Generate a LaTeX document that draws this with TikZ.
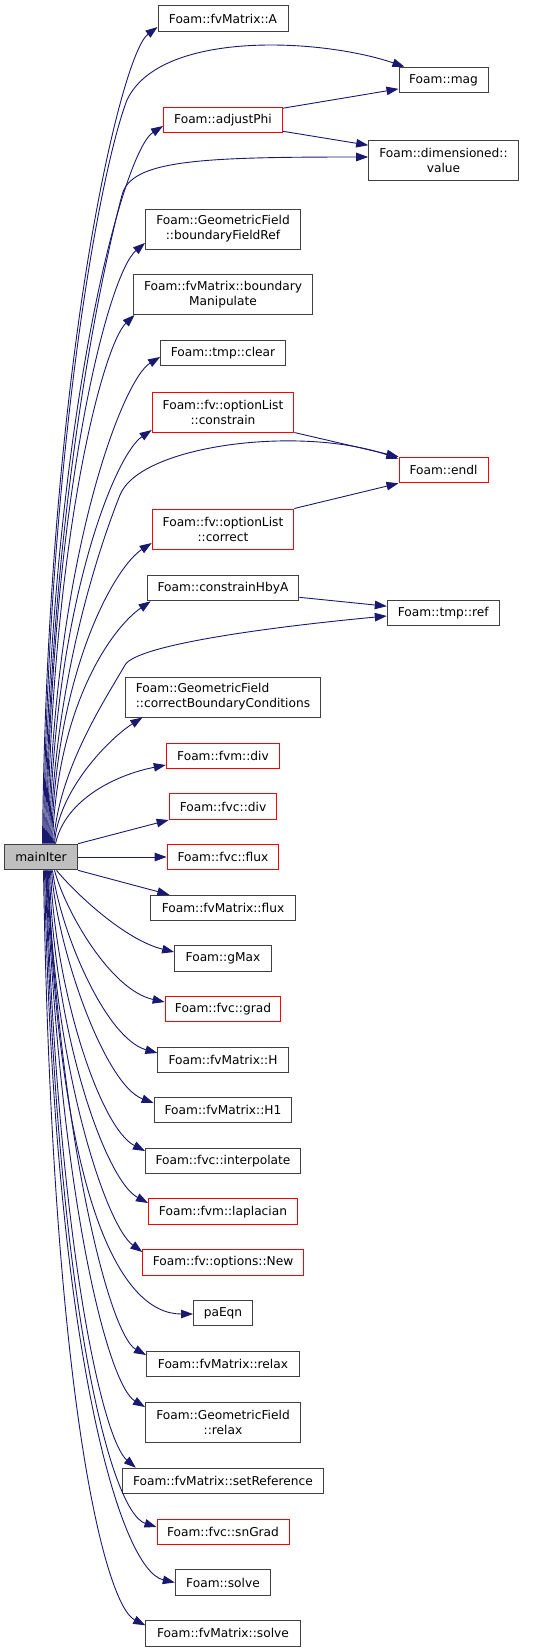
\documentclass[tikz,border=0pt]{standalone}
\usepackage{fontspec}
\setmainfont{DejaVu Sans}
\usetikzlibrary{arrows.meta,calc}
\definecolor{edgeblue}{HTML}{191970}
\definecolor{boxgrey}{HTML}{404040}
\definecolor{fillgrey}{HTML}{BFBFBF}
\begin{document}
\begin{tikzpicture}[x=1pt,y=-1pt,
  nodebox/.style={draw=boxgrey, line width=1pt, inner sep=0pt, minimum height=25.6pt,
    font=\fontsize{12.2}{15}\selectfont, align=center, text=black},
  redbox/.style={nodebox, draw=red},
  twoline/.style={minimum height=40pt},
  conn/.style={draw=edgeblue, line width=0.9pt, -{Triangle[length=12pt,width=8.5pt]}}]
\useasboundingbox (0,0) rectangle (557,1652);
% nodes
\node[nodebox, minimum width=130pt] (A) at (223,18.5) {Foam::fvMatrix::A};
\node[nodebox, minimum width=89pt] (mag) at (443.5,80) {Foam::mag};
\node[redbox, minimum width=119pt] (adj) at (223,120) {Foam::adjustPhi};
\node[nodebox, twoline, minimum width=149.6pt] (val) at (443.5,160) {Foam::dimensioned::\\value};
\node[nodebox, twoline, minimum width=155pt] (bfr) at (223,229) {Foam::GeometricField\\::boundaryFieldRef};
\node[nodebox, twoline, minimum width=179pt] (bman) at (223,294.5) {Foam::fvMatrix::boundary\\Manipulate};
\node[nodebox, minimum width=124.7pt] (clr) at (223,353) {Foam::tmp::clear};
\node[redbox, twoline, minimum width=141.7pt] (cons) at (223,412) {Foam::fv::optionList\\::constrain};
\node[redbox, minimum width=89pt] (endl) at (443.5,470) {Foam::endl};
\node[redbox, twoline, minimum width=141.7pt] (corr) at (223,529) {Foam::fv::optionList\\::correct};
\node[nodebox, minimum width=151.7pt] (chby) at (223,588) {Foam::constrainHbyA};
\node[nodebox, minimum width=112pt] (ref) at (443.3,613) {Foam::tmp::ref};
\node[nodebox, twoline, align=left, minimum width=194.3pt] (cbc) at (223,697) {Foam::GeometricField\\::correctBoundaryConditions};
\node[redbox, minimum width=113.4pt] (fvmdiv) at (223,756) {Foam::fvm::div};
\node[redbox, minimum width=107.7pt] (fvcdiv) at (223,806.7) {Foam::fvc::div};
\node[nodebox, fill=fillgrey, minimum width=73pt] (main) at (41,857) {mainIter};
\node[redbox, minimum width=111.7pt] (fvcflux) at (223,857) {Foam::fvc::flux};
\node[nodebox, minimum width=144.3pt] (fvmflux) at (223,908) {Foam::fvMatrix::flux};
\node[nodebox, minimum width=96.7pt] (gmax) at (223,958.5) {Foam::gMax};
\node[redbox, minimum width=115.7pt] (grad) at (223,1009) {Foam::fvc::grad};
\node[nodebox, minimum width=130.3pt] (H) at (223,1060) {Foam::fvMatrix::H};
\node[nodebox, minimum width=137.7pt] (Hone) at (223,1110) {Foam::fvMatrix::H1};
\node[nodebox, minimum width=155pt] (interp) at (223,1161) {Foam::fvc::interpolate};
\node[redbox, minimum width=149pt] (lap) at (223,1211.7) {Foam::fvm::laplacian};
\node[redbox, minimum width=160.3pt] (new) at (223,1262.5) {Foam::fv::options::New};
\node[nodebox, minimum width=59pt] (pa) at (223,1313) {paEqn};
\node[nodebox, minimum width=153pt] (frel) at (223,1364) {Foam::fvMatrix::relax};
\node[nodebox, twoline, minimum width=155pt] (grel) at (223,1422) {Foam::GeometricField\\::relax};
\node[nodebox, minimum width=201.3pt] (sref) at (223,1481) {Foam::fvMatrix::setReference};
\node[redbox, minimum width=132pt] (sng) at (223,1532) {Foam::fvc::snGrad};
\node[nodebox, minimum width=95.4pt] (slv) at (223,1582.5) {Foam::solve};
\node[nodebox, minimum width=154.3pt] (fslv) at (223,1633.3) {Foam::fvMatrix::solve};
% upper edges
\draw[conn] ($(main.north west)+(38.5,0)$) .. controls (47,370) and (120,55) .. ($(A.west)+(0,8.5)$);
\draw[conn] ($(main.north west)+(39.5,0)$) .. controls (48,450) and (100,170) .. (127,100)
  .. controls (160,30) and (320,38) .. ($(mag.north west)+(6,0)$);
\draw[conn] ($(main.north west)+(40.5,0)$) .. controls (49,428) and (122,152) .. ($(adj.west)+(0,6)$);
\draw[conn] ($(main.north west)+(41.5,0)$) .. controls (50,500) and (105,260) .. (122,195)
  .. controls (131,160) and (200,157) .. ($(val.west)+(0,-3)$);
\draw[conn] ($(main.north west)+(42.5,0)$) .. controls (51,495) and (108,274) .. ($(bfr.west)+(0,14)$);
\draw[conn] ($(main.north west)+(43.5,0)$) .. controls (52,537) and (103,345) .. ($(bman.south west)+(1.5,0)$);
\draw[conn] ($(main.north west)+(44.5,0)$) .. controls (53,562) and (122,380) .. ($(clr.west)+(0,4)$);
\draw[conn] ($(main.north west)+(45.5,0)$) .. controls (54,604) and (115,455) .. ($(cons.west)+(0,18)$);
\draw[conn] ($(main.north west)+(46.5,0)$) .. controls (54,680) and (100,545) .. (120,495)
  .. controls (140,445) and (300,425) .. ($(endl.north west)+(0,2)$);
\draw[conn] ($(main.north west)+(47.5,0)$) .. controls (56,669) and (115,567) .. ($(corr.west)+(0,14)$);
\draw[conn] ($(main.north west)+(48.5,0)$) .. controls (57,703) and (113,627) .. ($(chby.south west)+(4,0)$);
\draw[conn] ($(main.north west)+(49.5,0)$) .. controls (58,770) and (105,700) .. (125,665)
  .. controls (137,644) and (280,626) .. ($(ref.west)+(0,3)$);
\draw[conn] ($(main.north west)+(50.5,0)$) .. controls (58,790) and (110,738) .. ($(cbc.south west)+(17,0)$);
\draw[conn] ($(main.north west)+(51.5,0)$) .. controls (65,800) and (115,775) .. ($(fvmdiv.west)+(0,9)$);
\draw[conn] (main.north east) -- (fvcdiv.south west);
\draw[conn] (main.east) -- (fvcflux.west);
\draw[conn] (main.south east) -- ($(fvmflux.north west)+(19,0)$);
% lower edges
\draw[conn] ($(main.south west)+(52.5,0)$) .. controls (75,893) and (125,940) .. ($(gmax.west)+(0,-6.5)$);
\draw[conn] ($(main.south west)+(50.5,0)$) .. controls (65,910) and (110,990) .. ($(grad.west)+(0,-7)$);
\draw[conn] ($(main.south west)+(48.5,0)$) .. controls (60,930) and (105,1038) .. ($(H.west)+(0,-7)$);
\draw[conn] ($(main.south west)+(47.5,0)$) .. controls (57,950) and (105,1085) .. ($(Hone.west)+(0,-7)$);
\draw[conn] ($(main.south west)+(46.5,0)$) .. controls (55,990) and (100,1128) .. ($(interp.west)+(0,-10)$);
\draw[conn] ($(main.south west)+(45.5,0)$) .. controls (53,1030) and (105,1180) .. ($(lap.west)+(0,-8.7)$);
\draw[conn] ($(main.south west)+(44.5,0)$) .. controls (52,1060) and (105,1225) .. ($(new.west)+(0,-10.5)$);
\draw[conn] ($(main.south west)+(43.5,0)$) .. controls (60,1200) and (120,1314) .. ($(pa.west)+(0,1)$);
\draw[conn] ($(main.south west)+(43,0)$) .. controls (62,1150) and (110,1335) .. ($(frel.west)+(0,-9)$);
\draw[conn] ($(main.south west)+(42.5,0)$) .. controls (60,1200) and (108,1385) .. ($(grel.west)+(0,-15)$);
\draw[conn] ($(main.south west)+(42,0)$) .. controls (58,1250) and (103,1440) .. ($(sref.north west)+(14,0)$);
\draw[conn] ($(main.south west)+(41.5,0)$) .. controls (56,1300) and (110,1512) .. ($(sng.west)+(0,-5)$);
\draw[conn] ($(main.south west)+(40.5,0)$) .. controls (54,1350) and (120,1570) .. (slv.west);
\draw[conn] ($(main.south west)+(39.5,0)$) .. controls (52,1400) and (105,1605) .. ($(fslv.west)+(0,-8)$);
% cross edges
\draw[conn] ($(adj.north east)+(0,1.5)$) -- ($(mag.south west)+(0,-4.4)$);
\draw[conn] ($(adj.south east)+(0,-2)$) -- ($(val.north west)+(0,5.7)$);
\draw[conn] (cons.south east) -- (endl.north west);
\draw[conn] (corr.north east) -- (endl.south west);
\draw[conn] ($(chby.south east)+(0,-4)$) -- ($(ref.north west)+(0,6.5)$);
\end{tikzpicture}
\end{document}
